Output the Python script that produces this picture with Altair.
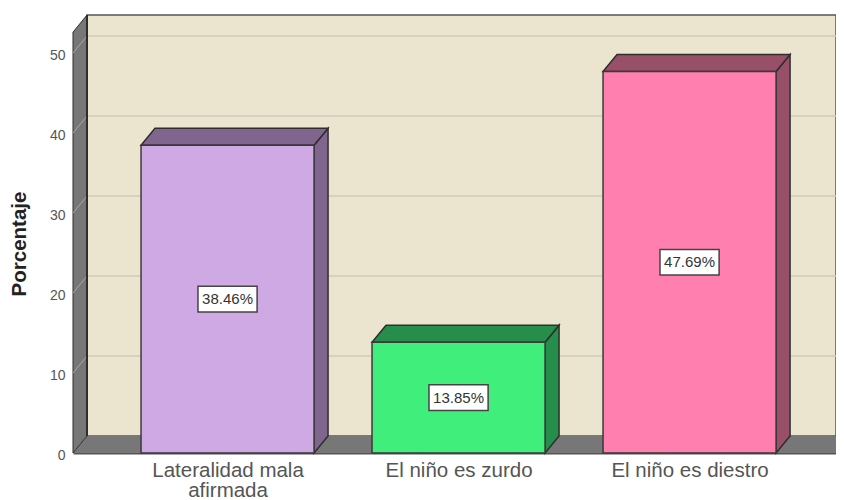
import altair as alt
import pandas as pd

categories = ["Lateralidad mala afirmada", "El niño es zurdo", "El niño es diestro"]
values = [38.46, 13.85, 47.69]
labels = ["38.46%", "13.85%", "47.69%"]
front_colors = ["#CFA9E4", "#40EE7C", "#FF7FAF"]
side_colors = ["#80658F", "#268E4A", "#985069"]
y_ticks = [0, 10, 20, 30, 40, 50]

X_MIN, X_MAX = -0.669, 2.634
Y_MAX = 54.75
WALL_FRONT_TOP = 52.6
DX, DY = 0.0606, 2.125
HALF = 0.3745
BOX_W, BOX_H = 0.128, 1.6

WALL = "#EBE5CF"
GRAY = "#777777"
EDGE = "#2E2E2E"
GRID = "#D0CBBA"

xs = alt.Scale(domain=[X_MIN, X_MAX], nice=False, zero=False)
ys = alt.Scale(domain=[0, Y_MAX], nice=False)
label_expr = ("datum.value == 0 ? ['Lateralidad mala', 'afirmada'] : "
              "datum.value == 1 ? 'El niño es zurdo' : 'El niño es diestro'")
x_axis = alt.Axis(
    values=[0, 1, 2], labelExpr=label_expr, title=None, ticks=False, grid=False,
    domainColor="#555555", domainWidth=2, labelFontSize=20.5, labelColor="#555555",
    labelFont="Liberation Sans", labelPadding=7, labelLineHeight=20.5, labelOverlap=False,
    labelFlush=False)
y_axis = alt.Axis(
    values=y_ticks, format="d", title="Porcentaje", ticks=False, grid=False, domain=False,
    labelFontSize=14, labelColor="#555555", labelFont="Liberation Sans", labelPadding=8,
    labelOffset=2,
    titleFont="Liberation Sans", titleFontSize=20.5, titleFontWeight="bold", titleColor="#222222",
    titleX=-44, titleY=228.5)
X = lambda f="x": alt.X(f"{f}:Q", scale=xs, axis=x_axis)
Y = lambda f="y": alt.Y(f"{f}:Q", scale=ys, axis=y_axis)
X2 = lambda f="x2": alt.X2(f"{f}:Q")
Y2 = lambda f="y2": alt.Y2(f"{f}:Q")

# Back wall
back = pd.DataFrame([dict(x=X_MIN + DX, x2=X_MAX, y=DY, y2=Y_MAX)])
back_layer = alt.Chart(back).mark_rect(fill=WALL, stroke="#555555", strokeWidth=1.5).encode(
    x=X(), x2=X2(), y=Y(), y2=Y2())

# Left wall
wall_df = pd.DataFrame([
    dict(x=X_MIN, y=0, y2=WALL_FRONT_TOP),
    dict(x=X_MIN + DX, y=DY, y2=Y_MAX),
])
wall_layer = alt.Chart(wall_df).mark_area(fill=GRAY, stroke=EDGE, strokeWidth=1).encode(
    x=X(), y=Y(), y2=Y2())

# Floor
floor_df = pd.DataFrame([
    dict(y=0, x=X_MIN, x2=X_MAX),
    dict(y=DY, x=X_MIN + DX, x2=X_MAX),
])
floor_layer = alt.Chart(floor_df).mark_area(orient="horizontal", fill=GRAY, clip=True).encode(
    x=X(), x2=X2(), y=Y())

# Gridlines on the wall and their slanted part on the left wall
grid_df = pd.DataFrame([dict(x=X_MIN + DX, x2=X_MAX, y=t + DY) for t in y_ticks[1:]])
grid_layer = alt.Chart(grid_df).mark_rule(color=GRID, strokeWidth=1.5).encode(
    x=X(), x2=X2(), y=Y())
slant_rows = []
for t in y_ticks[1:]:
    slant_rows.append(dict(t=t, x=X_MIN, y=t))
    slant_rows.append(dict(t=t, x=X_MIN + DX, y=t + DY))
slant_layer = alt.Chart(pd.DataFrame(slant_rows)).mark_line(color="#A8A8A0", strokeWidth=1).encode(
    x=X(), y=Y(), detail="t:N")

# Wall inner edge
edge_df = pd.DataFrame([dict(x=X_MIN + DX, y=DY, y2=Y_MAX)])
edge_layer = alt.Chart(edge_df).mark_rule(color=EDGE, strokeWidth=2).encode(
    x=X(), y=Y(), y2=Y2())

# Bars
front_rows, side_rows, top_rows, box_rows = [], [], [], []
for i, v in enumerate(values):
    front_rows.append(dict(x=i - HALF, x2=i + HALF, y=0, y2=v, fill=front_colors[i]))
    side_rows.append(dict(x=i + HALF, y=0, y2=v, fill=side_colors[i]))
    side_rows.append(dict(x=i + HALF + DX, y=DY, y2=v + DY, fill=side_colors[i]))
    top_rows.append(dict(y=v, x=i - HALF, x2=i + HALF, fill=side_colors[i]))
    top_rows.append(dict(y=v + DY, x=i - HALF + DX, x2=i + HALF + DX, fill=side_colors[i]))
    box_rows.append(dict(x=i - BOX_W, x2=i + BOX_W, y=v / 2 - BOX_H, y2=v / 2 + BOX_H,
                         cx=i, cy=v / 2, label=labels[i]))

fill = alt.Color("fill:N", scale=None)
side_layer = alt.Chart(pd.DataFrame(side_rows)).mark_area(stroke=EDGE, strokeWidth=1.5).encode(
    x=X(), y=Y(), y2=Y2(), color=fill)
top_layer = alt.Chart(pd.DataFrame(top_rows)).mark_area(orient="horizontal", stroke=EDGE, strokeWidth=1.5).encode(
    x=X(), x2=X2(), y=Y(), color=fill)
front_layer = alt.Chart(pd.DataFrame(front_rows)).mark_rect(stroke="#3A3A3A", strokeWidth=1.5).encode(
    x=X(), x2=X2(), y=Y(), y2=Y2(), color=fill)

box_df = pd.DataFrame(box_rows)
box_layer = alt.Chart(box_df).mark_rect(fill="white", stroke="#444444", strokeWidth=1.5).encode(
    x=X(), x2=X2(), y=Y(), y2=Y2())
text_layer = alt.Chart(box_df).mark_text(font="Liberation Sans", fontSize=15, color="#333333").encode(
    x=X("cx"), y=Y("cy"), text="label:N")

chart = alt.layer(
    back_layer, grid_layer, floor_layer, wall_layer, slant_layer, edge_layer,
    side_layer, top_layer, front_layer, box_layer, text_layer,
).properties(
    width=763, height=438, background="white",
    padding={"left": 65, "top": 7, "right": 0, "bottom": 46},
    autosize=alt.AutoSizeParams(type="none"),
).configure_view(stroke=None)

chart.save("out.html", embed_options={"renderer": "svg", "actions": False})
